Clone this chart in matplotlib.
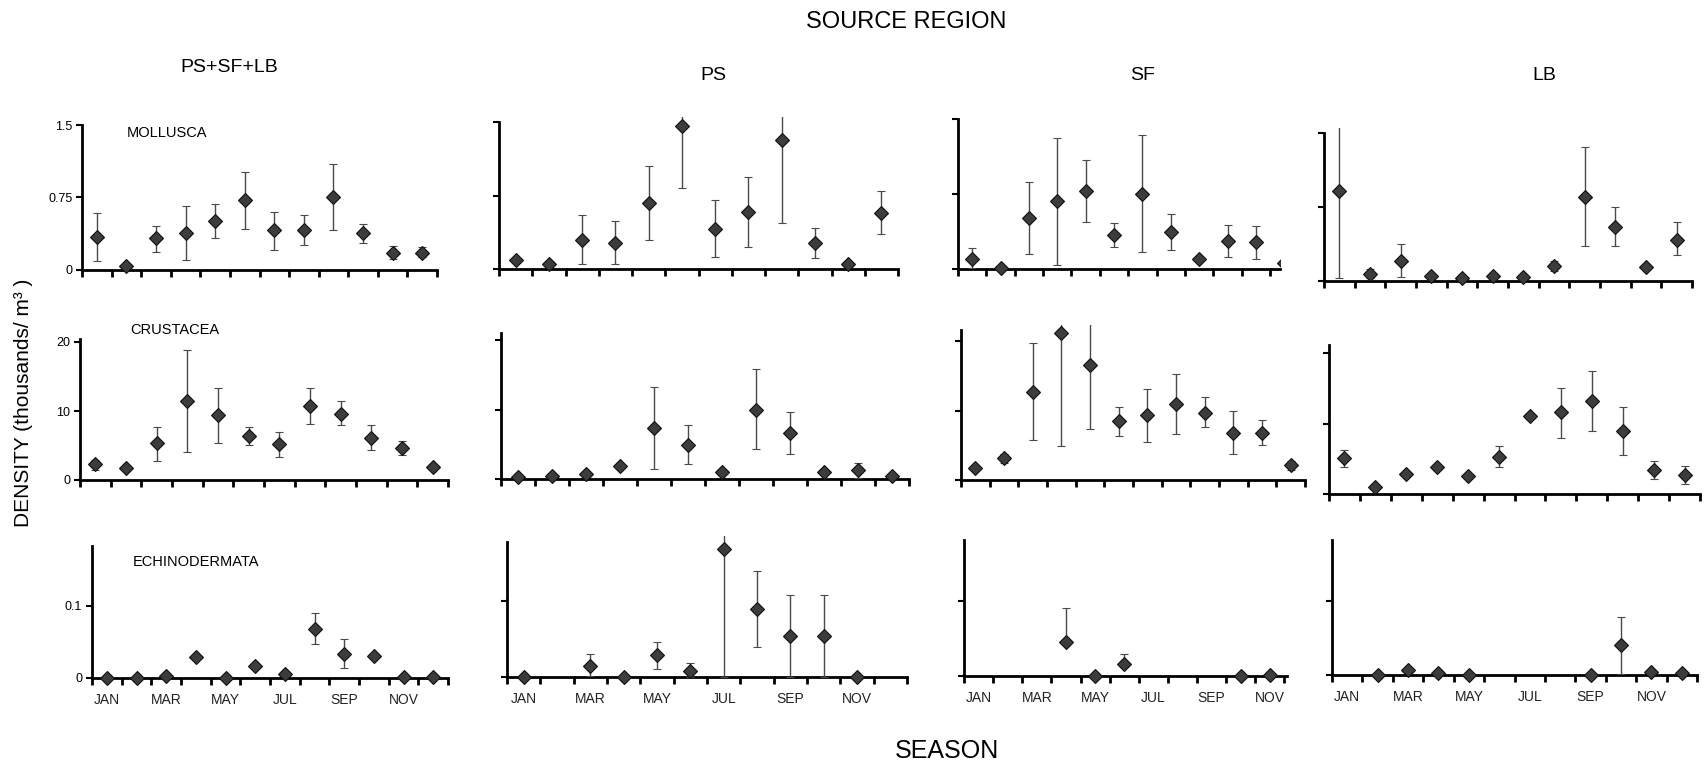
import numpy as np
import matplotlib
matplotlib.use("Agg")
import matplotlib.pyplot as plt
from matplotlib.transforms import Bbox, TransformedBbox

plt.rcParams['font.family'] = ['Liberation Sans', 'DejaVu Sans']

nan = np.nan
months = ["JAN", "MAR", "MAY", "JUL", "SEP", "NOV"]
regions = ["PS+SF+LB", "PS", "SF", "LB"]
taxa = ["MOLLUSCA", "CRUSTACEA", "ECHINODERMATA"]

# Mollusca (mean, lower end, upper end of error bar)
moll_all = [0.34, 0.04, 0.33, 0.38, 0.51, 0.72, 0.41, 0.41, 0.75, 0.38, 0.18, 0.18]
moll_all_lo = [0.09, 0.04, 0.19, 0.10, 0.33, 0.42, 0.21, 0.26, 0.41, 0.28, 0.11, 0.13]
moll_all_hi = [0.59, 0.04, 0.46, 0.66, 0.68, 1.01, 0.60, 0.57, 1.10, 0.48, 0.25, 0.24]
moll_ps = [0.09, 0.05, 0.30, 0.27, 0.67, 1.46, 0.41, 0.58, 1.32, 0.27, 0.05, 0.57]
moll_ps_lo = [0.09, 0.05, 0.05, 0.05, 0.30, 0.83, 0.12, 0.22, 0.47, 0.11, 0.05, 0.36]
moll_ps_hi = [0.09, 0.05, 0.55, 0.49, 1.05, 1.65, 0.70, 0.94, 1.65, 0.42, 0.05, 0.80]
moll_sf = [0.10, 0.01, 0.51, 0.68, 0.78, 0.34, 0.75, 0.37, 0.10, 0.28, 0.27, 0.06]
moll_sf_lo = [0.01, 0.01, 0.15, 0.04, 0.47, 0.22, 0.17, 0.19, 0.10, 0.12, 0.10, 0.06]
moll_sf_hi = [0.21, 0.01, 0.87, 1.31, 1.09, 0.46, 1.34, 0.55, 0.10, 0.44, 0.43, 0.06]
moll_lb = [0.91, 0.07, 0.20, 0.05, 0.03, 0.05, 0.04, 0.15, 0.85, 0.55, 0.14, 0.42]
moll_lb_lo = [0.03, 0.03, 0.04, 0.05, 0.03, 0.05, 0.04, 0.10, 0.35, 0.35, 0.14, 0.26]
moll_lb_hi = [1.65, 0.12, 0.37, 0.05, 0.03, 0.05, 0.04, 0.20, 1.36, 0.75, 0.14, 0.60]

# Crustacea
crus_all = [2.3, 1.7, 5.3, 11.4, 9.4, 6.4, 5.2, 10.7, 9.6, 6.1, 4.7, 1.9]
crus_all_lo = [1.5, 1.7, 2.8, 4.1, 5.4, 5.1, 3.4, 8.1, 7.9, 4.3, 3.6, 1.9]
crus_all_hi = [2.9, 1.7, 7.7, 18.9, 13.4, 7.7, 7.0, 13.3, 11.4, 8.0, 5.7, 1.9]
crus_ps = [0.24, 0.48, 0.72, 1.8, 7.4, 4.9, 0.96, 10.0, 6.6, 1.0, 1.3, 0.38]
crus_ps_lo = [0.24, 0.48, 0.72, 1.8, 1.5, 2.2, 0.96, 4.3, 3.6, 1.0, 0.14, 0.38]
crus_ps_hi = [0.24, 0.48, 0.72, 1.8, 13.3, 7.7, 0.96, 15.8, 9.6, 1.0, 2.3, 0.38]
crus_sf = [1.7, 3.2, 12.7, 21.2, 16.6, 8.5, 9.3, 10.9, 9.7, 6.8, 6.7, 2.2]
crus_sf_lo = [1.7, 2.5, 5.8, 4.9, 7.3, 6.4, 5.5, 6.6, 7.6, 3.7, 5.0, 1.5]
crus_sf_hi = [1.7, 3.8, 19.7, 25.0, 25.0, 10.5, 13.1, 15.2, 12.0, 9.9, 8.6, 2.8]
crus_lb = [5.1, 0.94, 2.8, 3.9, 2.5, 5.3, 11.0, 11.6, 13.2, 8.9, 3.4, 2.7]
crus_lb_lo = [3.9, 0.94, 2.8, 3.9, 2.5, 3.8, 11.0, 8.0, 8.9, 5.5, 2.1, 1.4]
crus_lb_hi = [6.3, 0.94, 2.8, 3.9, 2.5, 6.8, 11.0, 15.1, 17.5, 12.3, 4.7, 4.0]

# Echinodermata
echi_all = [0, 0, 0.003, 0.029, 0, 0.016, 0.005, 0.068, 0.033, 0.030, 0.002, 0.001]
echi_all_lo = [0, 0, 0.003, 0.029, 0, 0.016, 0.005, 0.047, 0.014, 0.030, 0.002, 0.001]
echi_all_hi = [0, 0, 0.003, 0.029, 0, 0.016, 0.005, 0.090, 0.054, 0.030, 0.002, 0.001]
echi_ps = [0, nan, 0.015, 0, 0.029, 0.008, 0.168, 0.089, 0.054, 0.054, 0, nan]
echi_ps_lo = [0, nan, 0.001, 0, 0.010, 0.0, 0.0, 0.040, 0.0, 0.0, 0, nan]
echi_ps_hi = [0, nan, 0.030, 0, 0.046, 0.018, 0.200, 0.139, 0.108, 0.108, 0, nan]
echi_sf = [nan, nan, nan, 0.045, 0, 0.0155, nan, nan, nan, 0, 0.001, nan]
echi_sf_lo = [nan, nan, nan, 0.045, 0, 0.0155, nan, nan, nan, 0, 0.001, nan]
echi_sf_hi = [nan, nan, nan, 0.091, 0, 0.030, nan, nan, nan, 0, 0.001, nan]
echi_lb = [nan, 0, 0.007, 0.003, 0, nan, nan, nan, 0, 0.041, 0.004, 0.003]
echi_lb_lo = [nan, 0, 0.007, 0.003, 0, nan, nan, nan, 0, 0.002, 0.004, 0.003]
echi_lb_hi = [nan, 0, 0.007, 0.003, 0, nan, nan, nan, 0, 0.079, 0.004, 0.003]

series = [
    [(moll_all, moll_all_lo, moll_all_hi), (moll_ps, moll_ps_lo, moll_ps_hi),
     (moll_sf, moll_sf_lo, moll_sf_hi), (moll_lb, moll_lb_lo, moll_lb_hi)],
    [(crus_all, crus_all_lo, crus_all_hi), (crus_ps, crus_ps_lo, crus_ps_hi),
     (crus_sf, crus_sf_lo, crus_sf_hi), (crus_lb, crus_lb_lo, crus_lb_hi)],
    [(echi_all, echi_all_lo, echi_all_hi), (echi_ps, echi_ps_lo, echi_ps_hi),
     (echi_sf, echi_sf_lo, echi_sf_hi), (echi_lb, echi_lb_lo, echi_lb_hi)],
]

W, H = 1707, 774
fig = plt.figure(figsize=(W / 100, H / 100), dpi=100)

# panel geometry in pixels: left, right, zero, ref tick px, ref tick value, xmax, spine top, ylim top
geom = [
    [(82, 437, 270, 125, 1.5, 12, 1.5, 1.55), (499, 898, 269, 122, 1.5, 12, 1.5, 1.55),
     (958, 1280, 269, 119, 1.5, 11.35, 1.5, 1.55), (1324, 1692, 281, 133, 1.5, 12, 1.5, 1.55)],
    [(80, 448, 480, 342, 20, 12, 20.5, 20.5), (501, 909, 479, 340, 20, 12, 21, 21),
     (961, 1305, 480, 341, 20, 12, 21.6, 22.3), (1329, 1700, 494, 353, 20, 12, 21.1, 21.1)],
    [(92, 448, 678, 606, 0.1, 12, 0.183, 0.183), (507, 907, 677, 601, 0.1, 12, 0.178, 0.186),
     (964, 1287, 676, 601, 0.1, 11.09, 0.181, 0.181), (1332, 1697, 675, 601, 0.1, 12, 0.182, 0.182)],
]
yticks = [[0, 0.75, 1.5], [0, 10, 20], [0, 0.1]]
ytlabels = [["0", "0.75", "1.5"], ["0", "10", "20"], ["0", "0.1"]]

x = np.arange(12) + 0.5
for r in range(3):
    for c in range(4):
        left, right, zero, tpx, tval, xmax, stop, ytop = geom[r][c]
        upp = tval / (zero - tpx)
        hpx = ytop / upp
        ax = fig.add_axes([left / W, (H - zero) / H, (right - left) / W, hpx / H])
        m, lo, hi = (np.array(a, dtype=float) for a in series[r][c])
        pts, caps, bars = ax.errorbar(x, m, yerr=[m - lo, hi - m], fmt='D', ms=7,
                                      mfc='#3c3c3c', mec='#111111', mew=0.8,
                                      ecolor='#4a4a4a', elinewidth=1,
                                      capsize=3, capthick=1, zorder=3)
        # let markers sitting on the zero line show whole, still clipped at the right edge
        pts.set_clip_box(TransformedBbox(Bbox([[-0.05, -0.2], [1, 1.1]]), ax.transAxes))
        ax.set_xlim(0, xmax)
        ax.set_ylim(0, ytop)
        for s in ['top', 'right']:
            ax.spines[s].set_visible(False)
        ax.spines['left'].set_bounds(0, stop)
        ax.spines['left'].set_linewidth(2)
        ax.spines['bottom'].set_linewidth(2)
        ax.set_xticks(np.arange(0, int(np.floor(xmax)) + 1))
        ax.set_xticklabels([])
        ax.tick_params(axis='x', direction='out', length=5, width=2)
        ax.set_yticks(yticks[r])
        ax.tick_params(axis='y', direction='out', length=4, width=1.5, labelsize=9, pad=3)
        if c == 0:
            ax.set_yticklabels(ytlabels[r])
        else:
            ax.set_yticklabels([])
        if r == 2:
            ax.set_xticks(np.arange(0.5, 12, 2), minor=True)
            ax.set_xticklabels(months, minor=True)
            ax.tick_params(axis='x', which='minor', length=0, labelsize=10, pad=11, colors='#222')
        ax.patch.set_alpha(0)

# panel labels
fig.text(127 / W, 1 - 133 / H, taxa[0], fontsize=10.5, va='center')
fig.text(130 / W, 1 - 330 / H, taxa[1], fontsize=10.5, va='center')
fig.text(133 / W, 1 - 562 / H, taxa[2], fontsize=10.5, va='center')

# column titles
fig.text(906 / W, 1 - 22 / H, "SOURCE REGION", fontsize=17, ha='center', va='center')
fig.text(229 / W, 1 - 67 / H, regions[0], fontsize=14, ha='center', va='center')
fig.text(713 / W, 1 - 76 / H, regions[1], fontsize=14, ha='center', va='center')
fig.text(1143 / W, 1 - 76 / H, regions[2], fontsize=14, ha='center', va='center')
fig.text(1544 / W, 1 - 76 / H, regions[3], fontsize=14, ha='center', va='center')

fig.text(947 / W, 1 - 751 / H, "SEASON", fontsize=18, ha='center', va='center')
fig.text(24 / W, 1 - 403 / H, "DENSITY (thousands/ m³ )", fontsize=15,
         rotation=90, ha='center', va='center')

fig.savefig("out.png", dpi=100)
